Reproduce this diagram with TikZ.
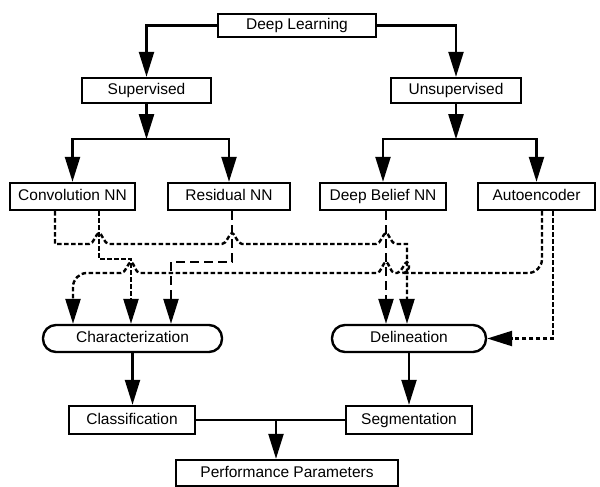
\documentclass[tikz,border=0pt]{standalone}
\usepackage{fontspec}
\setmainfont{Liberation Sans}
\usetikzlibrary{arrows.meta}
\begin{document}
\begin{tikzpicture}[x=1pt,y=-1pt,
  box/.style={draw, line width=2.4pt, rectangle, inner sep=0pt, font=\fontsize{15.5}{18}\selectfont, text height=11pt, text depth=3pt},
  pill/.style={box, rounded corners=13pt},
  tip/.style={-{Triangle[length=25pt,width=15pt]}},
  arr/.style={line width=2.3pt, tip},
  ln/.style={line width=2.3pt},
  dsh/.style={line width=2.4pt, dash pattern=on 4.5pt off 2.5pt, tip},
  ldsh/.style={line width=2.4pt, dash pattern=on 9pt off 5pt, tip}
]
\fill[white] (0,0) rectangle (600,487);
\useasboundingbox (0,0) rectangle (600,487);

% nodes
\node[box, minimum width=158pt, minimum height=23pt] (dl) at (297,25.5) {Deep Learning};
\node[box, minimum width=129pt, minimum height=25pt] (sup) at (146.5,90.5) {Supervised};
\node[box, minimum width=130pt, minimum height=25pt] (uns) at (456,90.5) {Unsupervised};
\node[box, minimum width=125pt, minimum height=27pt] (cnn) at (72.5,196.5) {Convolution NN};
\node[box, minimum width=122pt, minimum height=27pt] (rnn) at (229,196.5) {Residual NN};
\node[box, minimum width=126pt, minimum height=27pt] (dbn) at (383,196.5) {Deep Belief NN};
\node[box, minimum width=117pt, minimum height=27pt] (ae) at (536.5,196.5) {Autoencoder};
\node[pill, minimum width=179pt, minimum height=27pt] (chr) at (132.5,338.5) {Characterization};
\node[pill, minimum width=154pt, minimum height=27pt] (del) at (409,338.5) {Delineation};
\node[box, minimum width=126pt, minimum height=28pt] (cls) at (132,420) {Classification};
\node[box, minimum width=126pt, minimum height=28pt] (seg) at (409,420) {Segmentation};
\node[box, minimum width=222pt, minimum height=26pt] (perf) at (287,473) {Performance Parameters};

% tree connectors
\draw[arr] (dl.west) -| (sup.north);
\draw[arr] (dl.east) -| (uns.north);
\path (sup.south) ++(0,35) coordinate (js);
\path (uns.south) ++(0,35) coordinate (ju);
\draw[arr] (sup.south) -- (js);
\draw[arr] (uns.south) -- (ju);
\draw[arr] (js) -| (cnn.north);
\draw[arr] (js) -| (rnn.north);
\draw[arr] (ju) -| (dbn.north);
\draw[arr] (ju) -| (ae.north);

% bottom connectors
\draw[arr] (chr.south) -- (chr.south |- cls.north);
\draw[arr] (del.south) -- (del.south |- seg.north);
\draw[ln] (cls.east) -- (seg.west);
\coordinate (jb) at (276,420);
\draw[arr] (jb) -- (jb |- perf.north);

% dashed connectors
% Convolution NN -> Delineation
\draw[dsh] ([xshift=-17.5]cnn.south) -- (55,244) -- (89,244)
  .. controls (94,244) and (96,233) .. (99,233)
  .. controls (102,233) and (104,244) .. (109,244) -- (222,244)
  .. controls (227,244) and (229,233) .. (232,233)
  .. controls (235,233) and (237,244) .. (242,244) -- (376,244)
  .. controls (381,244) and (383,233) .. (386,233)
  .. controls (389,233) and (391,244) .. (396,244) -- (407,244)
  -- ([xshift=-2]del.north);
% Convolution NN -> Characterization
\draw[dsh] ([xshift=26.5]cnn.south) -- (99,259) -- (131,259) -- ([xshift=-1.5]chr.north);
% Residual NN -> Characterization
\draw[ldsh] ([xshift=3]rnn.south) -- (232,262) -- (171,262) -- ([xshift=38.5]chr.north);
% Deep Belief NN -> Delineation
\draw[ldsh] ([xshift=3]dbn.south) -- ([xshift=3]dbn.south |- del.north);
% Autoencoder -> Delineation
\draw[dsh] ([xshift=16.5]ae.south) |- (del.east);
% Autoencoder -> Characterization
\draw[dsh] ([xshift=5.5]ae.south) [rounded corners=14pt] -- (542,273) -- (416,273) [sharp corners]
  .. controls (411,273) and (410,262) .. (407,262)
  .. controls (404,262) and (402,273) .. (397,273) -- (395,273)
  .. controls (390,273) and (389,262) .. (386,262)
  .. controls (383,262) and (381,273) .. (377,273) -- (140,273)
  .. controls (135,273) and (134,262) .. (131,262)
  .. controls (128,262) and (126,273) .. (121,273) [rounded corners=14pt] -- (73,273)
  -- ([xshift=-59.5]chr.north);
\end{tikzpicture}
\end{document}
